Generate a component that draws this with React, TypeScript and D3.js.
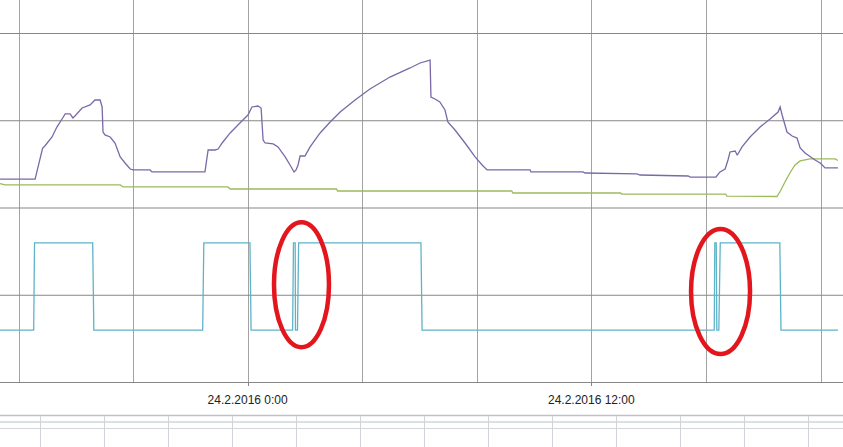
import React from 'react';
import * as d3 from 'd3';

// hours relative to 24.2.2016 0:00, value on the chart's vertical scale
const purple: [number, number][] = [
  [-8.7, 23.3], [-7.42, 23.3], [-7.16, 26.84], [-7.08, 27.11], [-6.83, 28.14], [-6.66, 29.28],
  [-6.48, 30.2], [-6.37, 30.78], [-6.2, 30.78], [-6.1, 30.32], [-6.03, 30.55], [-5.78, 31.46],
  [-5.5, 31.81], [-5.33, 32.38], [-5.15, 32.38], [-5.08, 31.58], [-5.05, 28.71], [-4.98, 28.37],
  [-4.8, 28.14], [-4.63, 27.45], [-4.45, 25.85], [-4.28, 25.16], [-4.1, 24.47], [-4.0, 24.36],
  [-3.41, 24.36], [-3.34, 24.13], [-1.49, 24.13], [-1.38, 26.65], [-1.14, 26.65], [-1.03, 26.76],
  [-0.89, 27.45], [-0.61, 28.6], [-0.27, 29.74], [0.01, 30.66], [0.15, 31.58], [0.36, 31.69],
  [0.47, 31.46], [0.54, 27.79], [0.61, 27.45], [0.89, 27.34], [1.06, 27.0], [1.31, 25.85],
  [1.48, 24.93], [1.62, 24.13], [1.69, 24.36], [1.76, 24.93], [1.83, 25.96], [2.0, 25.96],
  [2.18, 27.0], [2.53, 28.6], [2.88, 29.86], [3.23, 31.0], [3.75, 32.38], [4.27, 33.64],
  [4.97, 35.01], [5.67, 36.05], [6.02, 36.62], [6.37, 36.96], [6.4, 32.72], [6.54, 32.49],
  [6.71, 32.15], [6.89, 31.23], [6.99, 29.86], [7.24, 28.94], [7.59, 27.45], [7.94, 25.85],
  [8.22, 24.82], [8.36, 24.36], [9.86, 24.36], [9.89, 24.13], [11.71, 24.13], [11.78, 24.01],
  [13.59, 23.9], [13.7, 23.78], [15.38, 23.67], [15.45, 23.55], [16.35, 23.55], [16.49, 24.13],
  [16.67, 24.47], [16.77, 25.5], [16.84, 26.42], [17.02, 26.53], [17.09, 26.08], [17.12, 26.19],
  [17.26, 27.0], [17.54, 28.14], [17.89, 29.28], [18.24, 30.2], [18.52, 31.0], [18.59, 31.58],
  [18.66, 30.66], [18.83, 28.71], [19.01, 28.25], [19.18, 28.02], [19.29, 26.88], [19.46, 26.3],
  [19.81, 25.5], [19.99, 25.16], [20.16, 24.59], [20.61, 24.59],
];

const green: [number, number][] = [
  [-8.7, 22.83], [-8.47, 22.64], [-4.45, 22.64], [-4.35, 22.41], [-0.69, 22.41], [-0.61, 22.18],
  [3.1, 22.18], [3.14, 21.95], [9.22, 21.95], [9.26, 21.72], [13.02, 21.72], [13.06, 21.6],
  [16.69, 21.6], [16.73, 21.37], [18.48, 21.32], [18.58, 21.83], [18.76, 22.98], [18.93, 24.01],
  [19.11, 24.93], [19.29, 25.39], [19.63, 25.62], [20.51, 25.62], [20.61, 25.44],
];

const cyan: [number, number][] = [
  [-8.7, 6], [-7.47, 6], [-7.44, 16], [-5.41, 16], [-5.37, 6], [-1.57, 6], [-1.53, 16],
  [0.08, 16], [0.12, 6], [1.57, 6], [1.6, 16], [1.66, 16], [1.67, 6], [1.74, 6], [1.78, 16],
  [6.05, 16], [6.09, 6], [16.29, 6], [16.31, 16], [16.36, 16], [16.38, 6], [16.45, 6],
  [16.5, 16], [18.58, 16], [18.62, 6], [20.61, 6],
];

// red highlight ellipses: centre hour, centre value, half-width (h), half-height (value)
const marks: [number, number, number, number][] = [
  [1.88, 11.2, 0.96, 7.16],
  [16.51, 10.43, 1.03, 7.16],
];

const yGrid = [0, 10, 20, 30, 40];

const W = 843;
const H = 447;
const base = new Date(2016, 1, 24, 0, 0);
const at = (h: number) => new Date(base.getTime() + h * 3600e3);

const x = d3.scaleTime()
  .domain([new Date(2016, 1, 23, 16), new Date(2016, 1, 24, 20)])
  .range([18.5, 820.5]);
const y = d3.scaleLinear().domain([0, 40]).range([382.5, 33.5]);

const line = d3.line<[number, number]>()
  .x((d) => x(at(d[0])))
  .y((d) => y(d[1]));

const fmt = d3.timeFormat('%-d.%-m.%Y %-H:%M');

export default function App() {
  const vGrid = x.ticks(d3.timeHour.every(4) as d3.TimeInterval);
  const labelTicks = x.ticks(d3.timeHour.every(12) as d3.TimeInterval);
  const cellLines = d3.range(40, W, 64);

  return (
    <svg width={W} height={H} style={{ position: 'absolute', left: 0, top: 0, background: '#fff' }}>
      {vGrid.map((t, i) => (
        <line key={'v' + i} x1={Math.round(x(t)) + 0.5} x2={Math.round(x(t)) + 0.5} y1={0} y2={382}
          stroke="#a3a3a3" strokeWidth={1} />
      ))}
      {yGrid.map((v, i) => (
        <line key={'h' + i} x1={0} x2={W} y1={y(v)} y2={y(v)} stroke="#878787" strokeWidth={1} />
      ))}
      {labelTicks.map((t, i) => (
        <g key={'t' + i}>
          <line x1={Math.round(x(t)) + 0.5} x2={Math.round(x(t)) + 0.5} y1={382} y2={386} stroke="#878787" />
          <text x={x(t)} y={404} textAnchor="middle" fontFamily="'Liberation Sans', Arial, sans-serif"
            fontSize={12} fill="#222">{fmt(t)}</text>
        </g>
      ))}
      <path d={line(green) || ''} fill="none" stroke="#9bbb59" strokeWidth={1.3} />
      <path d={line(purple) || ''} fill="none" stroke="#7a69a8" strokeWidth={1.3} />
      <path d={line(cyan) || ''} fill="none" stroke="#5fb3c9" strokeWidth={1.3} />
      {marks.map((m, i) => {
        const cx = x(at(m[0]));
        const rx = x(at(m[0] + m[2])) - cx;
        const cy = y(m[1]);
        const ry = cy - y(m[1] + m[3]);
        return <ellipse key={'e' + i} cx={cx} cy={cy} rx={rx} ry={ry} fill="none" stroke="#e3161d" strokeWidth={4.5} />;
      })}
      {/* spreadsheet cells below the chart */}
      <line x1={0} x2={W} y1={415.5} y2={415.5} stroke="#bfc3c6" strokeWidth={1.5} />
      <rect x={0} y={421} width={W} height={2} fill="#d9e2e2" />
      <line x1={0} x2={W} y1={428.5} y2={428.5} stroke="#d3d6da" strokeWidth={1} />
      {cellLines.map((cx, i) => (
        <line key={'c' + i} x1={cx + 0.5} x2={cx + 0.5} y1={416} y2={H} stroke="#d0d3d8" strokeWidth={1} />
      ))}
    </svg>
  );
}
